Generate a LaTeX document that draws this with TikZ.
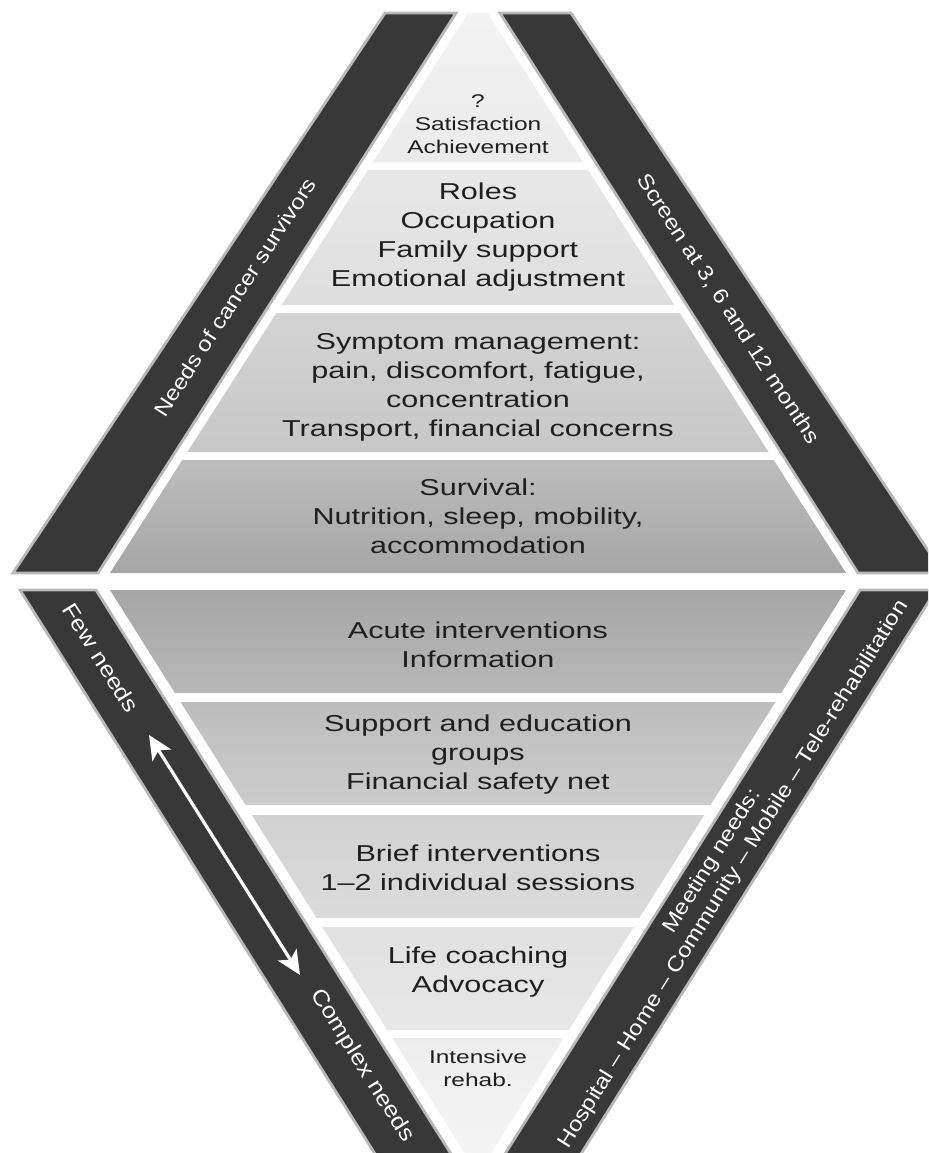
\documentclass[tikz,border=0pt]{standalone}
\usepackage{fontspec}
\usetikzlibrary{arrows.meta}

\setmainfont{Liberation Sans}

\tikzset{
  tier/.style={font=\fontsize{11.5}{14.5}\selectfont, align=center, text=black!88, xscale=1.33},
  smalltier/.style={font=\fontsize{9.2}{11.5}\selectfont, align=center, text=black!88, xscale=1.33},
  band/.style={fill=black!78, draw=black!28, line width=1.4pt},
  % give rotate= before this style, so the stretch runs along the text
  bandtext/.style={font=\fontsize{10.5}{12.5}\selectfont, text=white, align=center, xscale=1.15},
  twoway/.style={white, line width=1.6pt,
    {Stealth[length=12pt,width=11pt,inset=3pt]}-{Stealth[length=12pt,width=11pt,inset=3pt]}},
}

% upper pyramid layer: top y, bottom y, shade at top, shade at bottom
\newcommand{\uptier}[4]{%
  \pgfmathsetmacro\wtop{368-0.64*(573-#1)}%
  \pgfmathsetmacro\wbot{368-0.64*(573-#2)}%
  \shade[top color=#3, bottom color=#4]
    (478-\wtop,#1) -- (478+\wtop,#1) -- (478+\wbot,#2) -- (478-\wbot,#2) -- cycle;}
% lower (upside down) pyramid layer
\newcommand{\downtier}[4]{%
  \pgfmathsetmacro\wtop{368-0.63*(#1-590)}%
  \pgfmathsetmacro\wbot{368-0.63*(#2-590)}%
  \shade[top color=#3, bottom color=#4]
    (478-\wtop,#1) -- (478+\wtop,#1) -- (478+\wbot,#2) -- (478-\wbot,#2) -- cycle;}

\begin{document}
\begin{tikzpicture}[x=0.5pt, y=-0.5pt]
  \clip (0,0) rectangle (928,1153);

  % needs
  \uptier{13}{162}{black!5}{black!8}
  \uptier{170}{305}{black!9}{black!13}
  \uptier{313}{452}{black!17}{black!22}
  \uptier{460}{573}{black!26}{black!35}

  % interventions
  \downtier{590}{693}{black!35}{black!28}
  \downtier{702}{805}{black!26}{black!20}
  \downtier{815}{918}{black!18}{black!14}
  \downtier{927}{1030}{black!12}{black!9}
  \downtier{1038}{1165}{black!7}{black!4}

  % side bands
  \draw[band] (385,13) -- (456,13) -- (98,573) -- (13,573) -- cycle;
  \draw[band] (571,13) -- (500,13) -- (858,573) -- (943,573) -- cycle;
  \draw[band] (20,590) -- (96,590) -- (458,1165) -- (382,1165) -- cycle;
  \draw[band] (936,590) -- (860,590) -- (498,1165) -- (574,1165) -- cycle;

  \node[smalltier] (growth) at (478,124) {?\\Satisfaction\\Achievement};
  \node[tier] (roles) at (478,237) {Roles\\Occupation\\Family support\\Emotional adjustment};
  \node[tier] (symptoms) at (478,387) {Symptom management:\\pain, discomfort, fatigue,\\concentration\\Transport, financial concerns};
  \node[tier] (survival) at (478,516) {Survival:\\Nutrition, sleep, mobility,\\accommodation};

  \node[tier] (acute) at (478,645) {Acute interventions\\Information};
  \node[tier] (groups) at (478,755) {Support and education\\groups\\Financial safety net};
  \node[tier] (brief) at (478,868) {Brief interventions\\1–2 individual sessions};
  \node[tier] (coaching) at (478,972) {Life coaching\\Advocacy};
  \node[smalltier] (rehab) at (478,1068) {Intensive\\rehab.};

  \node[rotate=57, bandtext] (needs) at (235,297) {Needs of cancer survivors};
  \node[rotate=-57, bandtext] (screen) at (728,309) {Screen at 3, 6 and 12 months};
  \node[rotate=-58, bandtext, font=\fontsize{11}{13}\selectfont] (fewlbl) at (101,658) {Few needs};
  \node[rotate=-58, bandtext, font=\fontsize{11}{13}\selectfont] (complexlbl) at (362,1066) {Complex needs};
  \node[rotate=58, bandtext] (settings) at (723,868)
    {Meeting needs:\\Hospital – Home – Community – Mobile – Tele-rehabilitation};

  \coordinate (few) at (149,735);
  \coordinate (complex) at (300,975);
  \draw[twoway] (few) -- (complex);
\end{tikzpicture}
\end{document}
